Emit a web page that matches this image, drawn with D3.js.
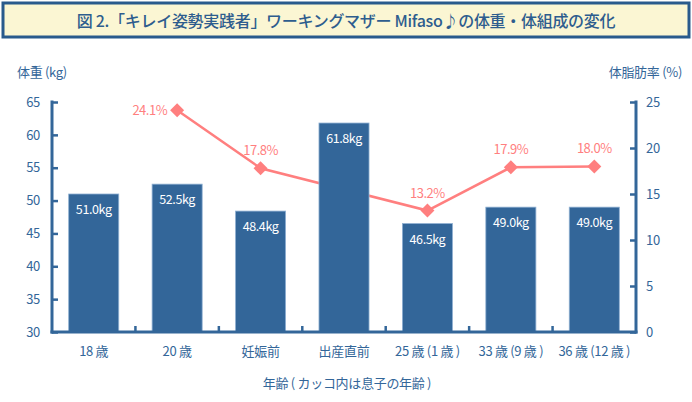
<!DOCTYPE html>
<html><head><meta charset="utf-8">
<script src="https://cdn.jsdelivr.net/npm/d3@7"></script>
<style>
body{margin:0;background:#fff;}
svg text{font-family:"Noto Sans CJK JP","Noto Sans",sans-serif;}
</style></head>
<body><svg id="c" width="692" height="402"></svg>
<script>
const categories = ["18 歳","20 歳","妊娠前","出産直前","25 歳 (1 歳 )","33 歳 (9 歳 )","36 歳 (12 歳 )"];
const weights = [51.0, 52.5, 48.4, 61.8, 46.5, 49.0, 49.0];
const fatCats = ["20 歳","妊娠前","25 歳 (1 歳 )","33 歳 (9 歳 )","36 歳 (12 歳 )"];
const fatValues = [24.1, 17.8, 13.2, 17.9, 18.0];
const leftTicks = [30,35,40,45,50,55,60,65];
const rightTicks = [0,5,10,15,20,25];
const title = "図 2.「キレイ姿勢実践者」ワーキングマザー Mifaso♪の体重・体組成の変化";

const blue = "#336699", pink = "#ff7f7f", axisCol = "#336699";
const svg = d3.select("#c");
const L = 52, R = 636, T = 102, B = 332;

// title box
svg.append("rect").attr("x",3).attr("y",3).attr("width",686).attr("height",34)
  .attr("fill","#fbf6d3").attr("stroke","#295a8c").attr("stroke-width",3);
svg.append("text").attr("x",346).attr("y",26.5).attr("text-anchor","middle")
  .attr("fill","#2e5d8e").attr("font-size",16).attr("font-weight",500)
  .attr("letter-spacing",-0.3).text(title);

const x = d3.scaleBand().domain(categories).range([L,R]).paddingInner(0.4).paddingOuter(0.2);
const yL = d3.scaleLinear().domain([30,65]).range([B,T]);
const yR = d3.scaleLinear().domain([0,25]).range([B,T]);

// line (behind bars)
const pts = fatCats.map((c,i)=>({x:x(c)+x.bandwidth()/2, y:yR(fatValues[i]), v:fatValues[i]}));
svg.append("path").attr("d", d3.line().x(d=>d.x).y(d=>d.y)(pts))
  .attr("fill","none").attr("stroke",pink).attr("stroke-width",2.5);

// bars
svg.selectAll("rect.bar").data(weights).join("rect").attr("class","bar")
  .attr("x",(d,i)=>x(categories[i])).attr("width",x.bandwidth())
  .attr("y",d=>yL(d)).attr("height",d=>B-yL(d))
  .attr("fill",blue).attr("stroke","#8fb0d2").attr("stroke-width",0.8);
svg.selectAll("text.bl").data(weights).join("text").attr("class","bl")
  .attr("x",(d,i)=>x(categories[i])+x.bandwidth()/2).attr("y",d=>yL(d)+20)
  .attr("text-anchor","middle").attr("fill","#fff").attr("font-size",12.5)
  .attr("letter-spacing",-0.4).text(d=>d.toFixed(1)+"kg");

// diamonds
svg.selectAll("path.dm").data(pts).join("path").attr("class","dm")
  .attr("d", d3.symbol(d3.symbolSquare, 98)).attr("transform",d=>`translate(${d.x},${d.y}) rotate(45)`)
  .attr("fill",pink);
svg.selectAll("text.pl").data(pts).join("text").attr("class","pl")
  .attr("x",(d,i)=> i===0 ? d.x-10 : d.x)
  .attr("y",(d,i)=> i===0 ? d.y+4.5 : d.y-13)
  .attr("text-anchor",(d,i)=> i===0 ? "end" : "middle")
  .attr("fill",pink).attr("font-size",13).attr("letter-spacing",-0.5)
  .text(d=>d.v.toFixed(1)+"%");

// axes
const gL = svg.append("g").attr("transform",`translate(${L},0)`)
  .call(d3.axisLeft(yL).tickValues(leftTicks).tickSizeInner(-6).tickSizeOuter(0).tickPadding(12));
const gR = svg.append("g").attr("transform",`translate(${R},0)`)
  .call(d3.axisRight(yR).tickValues(rightTicks).tickSizeInner(-6).tickSizeOuter(0).tickPadding(10));
const gB = svg.append("g").attr("transform",`translate(0,${B})`)
  .call(d3.axisBottom(x).tickSize(0).tickPadding(15));
[gL,gR,gB].forEach(g=>{
  g.select(".domain").attr("stroke",axisCol).attr("stroke-width",3);
  g.selectAll(".tick line").attr("stroke",axisCol).attr("stroke-width",2.5);
  g.selectAll(".tick text").attr("fill",axisCol).attr("font-size",13)
    .attr("font-family",'"Noto Sans CJK JP","Noto Sans",sans-serif').attr("letter-spacing",-0.3);
});
gL.select(".domain").attr("d",`M0,${T-1.5}V${B+1.5}`);
gR.select(".domain").attr("d",`M0,${T-1.5}V${B+1.5}`);
gB.select(".domain").attr("d",`M${L-1.5},0H${R+1.5}`);
// band separator ticks on bottom axis
const seps = categories.slice(1).map(c=>x(c)-x.step()*x.paddingInner()/2);
svg.append("g").selectAll("line").data(seps).join("line")
  .attr("x1",d=>d).attr("x2",d=>d).attr("y1",B).attr("y2",B-6)
  .attr("stroke",axisCol).attr("stroke-width",2.5);

// axis titles
svg.append("text").attr("x",17).attr("y",77).attr("fill",axisCol).attr("font-size",13).attr("letter-spacing",-0.3).text("体重 (kg)");
svg.append("text").attr("x",682).attr("y",77).attr("text-anchor","end").attr("fill",axisCol).attr("font-size",13).attr("letter-spacing",-0.3).text("体脂肪率 (%)");
svg.append("text").attr("x",347).attr("y",388).attr("text-anchor","middle").attr("fill",axisCol).attr("font-size",13).attr("letter-spacing",-0.3).text("年齢 ( カッコ内は息子の年齢 )");
</script></body></html>
